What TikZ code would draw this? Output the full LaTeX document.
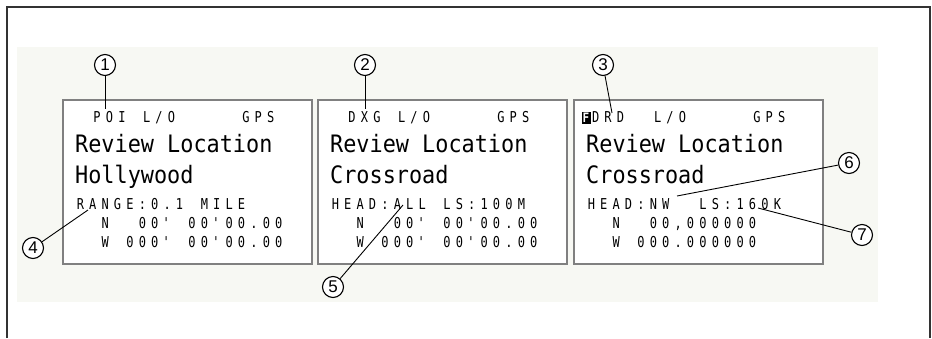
\documentclass[tikz,border=0pt]{standalone}
\usepackage{fontspec}
\setmainfont{Liberation Sans}
\newfontfamily\lcdbig[FakeStretch=0.91]{DejaVu Sans Mono}
\newfontfamily\lcdsmall[FakeStretch=0.8]{DejaVu Sans Mono}
\newfontfamily\lcdtag[FakeStretch=0.85]{DejaVu Sans Mono Bold}
\usetikzlibrary{positioning,calc}
\definecolor{panelbg}{RGB}{247,248,243}

% one LCD cell per character, _ is an empty cell
\newcommand\lcdrow[1]{\lcdscan#1\relax}
\def\lcdscan#1{\ifx\relax#1\else\lcdput{#1}\expandafter\lcdscan\fi}
\def\lcdput#1{\ifx_#1\hbox to 12.4pt{}\else\hbox to 12.4pt{\hss#1\hss}\fi}
\newcommand\q{\textquotesingle}

\begin{document}
\begin{tikzpicture}[x=1pt,y=-1pt,
screen-box/.style = {draw=black!50,line width=1.8pt,fill=white,minimum width=249pt,minimum height=164pt,anchor=north west,inner sep=0pt},
callout-node/.style = {circle,draw,line width=1.1pt,fill=white,minimum size=21pt,inner sep=0pt,font=\fontsize{17}{17}\selectfont},
lead-line/.style = {line width=0.9pt},
big-text/.style = {anchor=base west,inner sep=0pt,font=\lcdbig\fontsize{24}{24}\selectfont},
small-text/.style = {anchor=base west,inner sep=0pt,font=\lcdsmall\fontsize{15}{15}\selectfont}
]
\useasboundingbox (0,0) rectangle (932,338);

% frame and panel
\fill[panelbg] (17,47) rectangle (878,302);
\draw[line width=1.3pt,black!80] (7,338) -- (7,7) -- (930,7) -- (930,338);

% screens
\node [screen-box] (scr1) at (62,99) {};
\node [screen-box] (scr2) at (317,99) {};
\node [screen-box] (scr3) at (573,99) {};

\begin{scope}[shift={(scr1.north west)}]
\node [small-text] (poi) at (28.7,23) {\lcdrow{POI_L/O_____GPS}};
\node [big-text] (title1) at (13,53) {Review Location};
\node [big-text] (name1) at (13,84) {Hollywood};
\node [small-text] (range) at (12,110) {\lcdrow{RANGE:0.1_MILE}};
\node [small-text] (lat1) at (12,129) {\lcdrow{__N__00\q_00\q00.00}};
\node [small-text] (lon1) at (12,148) {\lcdrow{__W_000\q_00\q00.00}};
\end{scope}

\begin{scope}[shift={(scr2.north west)}]
\node [small-text] (dxg) at (28.7,23) {\lcdrow{DXG_L/O_____GPS}};
\node [big-text] (title2) at (13,53) {Review Location};
\node [big-text] (name2) at (13,84) {Crossroad};
\node [small-text] (head2) at (12,110) {\lcdrow{HEAD:ALL_LS:100M}};
\node [small-text] (lat2) at (12,129) {\lcdrow{__N__00\q_00\q00.00}};
\node [small-text] (lon2) at (12,148) {\lcdrow{__W_000\q_00\q00.00}};
\end{scope}

\begin{scope}[shift={(scr3.north west)}]
\node [fill=black,text=white,minimum width=9pt,minimum height=12pt,inner sep=0pt,
  font=\lcdtag\fontsize{13}{13}\selectfont] (ftag) at (13,19) {F};
\node [small-text] (drd) at (16.3,23) {\lcdrow{DRD__L/O_____GPS}};
\node [big-text] (title3) at (13,53) {Review Location};
\node [big-text] (name3) at (13,84) {Crossroad};
\node [small-text] (head3) at (12,110) {\lcdrow{HEAD:NW__LS:160K}};
\node [small-text] (lat3) at (12,129) {\lcdrow{__N__00,000000}};
\node [small-text] (lon3) at (12,148) {\lcdrow{__W_000.000000}};
\end{scope}

% callouts
\node [callout-node] (c1) at (105,65) {1};
\node [callout-node] (c2) at (365,65) {2};
\node [callout-node] (c3) at (603,65) {3};
\node [callout-node] (c4) at (33,248) {4};
\node [callout-node] (c5) at (333,287) {5};
\node [callout-node] (c6) at (849,163) {6};
\node [callout-node] (c7) at (862,235) {7};

\coordinate (p1) at (105,109);
\coordinate (p2) at (365,109);
\coordinate (p3) at (612,113);
\coordinate (p4) at (88,210);
\coordinate (p5) at (403,205);
\coordinate (p6) at (677,196);
\coordinate (p7) at (758,208);

% leader lines
\draw[lead-line] (c1) -- (p1);
\draw[lead-line] (c2) -- (p2);
\draw[lead-line] (c3) -- (p3);
\draw[lead-line] (c4) -- (p4);
\draw[lead-line] (c5) -- (p5);
\draw[lead-line] (c6) -- (p6);
\draw[lead-line] (c7) -- (p7);

\end{tikzpicture}
\end{document}
